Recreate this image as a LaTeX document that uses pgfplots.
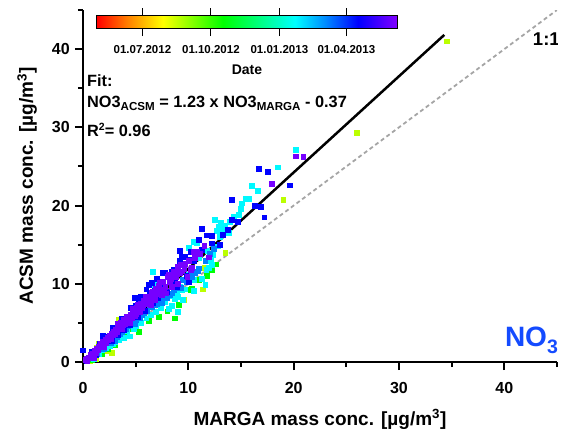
\documentclass[border=0pt]{standalone}
\usepackage{fontspec}
\setmainfont{Liberation Sans}
\usepackage{pgfplots}
\pgfplotsset{compat=1.18}
\usetikzlibrary{calc}
\definecolor{onetoone}{RGB}{165,165,165}
\definecolor{speciesblue}{RGB}{20,75,255}
\pgfplotsset{colormap={date}{rgb255(0cm)=(255,0,0); rgb255(1cm)=(255,125,0); rgb255(2.2cm)=(255,255,0); rgb255(4.2cm)=(0,255,0); rgb255(6.6cm)=(0,255,255); rgb255(7.6cm)=(0,140,255); rgb255(8.7cm)=(0,0,255); rgb255(10cm)=(130,0,255)}}

% x = MARGA, y = ACSM, c = days since 01.05.2012
\pgfplotstableread{
x y c
0.6 0.1 110
1.2 0.4 110
1.3 1.8 110
1.5 2.4 110
2.2 1.4 110
2.7 1.2 110
3.4 5.4 110
6.0 7.6 110
9.6 8.0 110
11.4 9.3 110
11.5 12.1 110
13.5 14.0 110
19.0 20.7 110
26.0 29.3 110
34.5 41.0 110
}\yellowpts
\pgfplotstableread{
x y c
0.8 0.3 170
1.8 1.0 170
2.4 1.7 170
3.0 2.2 170
4.0 3.5 170
4.7 4.2 170
5.3 3.9 170
6.2 5.3 170
7.2 5.8 170
8.0 6.5 170
8.7 5.6 170
9.1 7.3 170
10.2 9.2 170
10.3 9.4 170
11.0 10.5 170
11.7 11.2 170
11.8 11.0 170
12.2 11.8 170
12.6 12.5 170
}\greenpts
\pgfplotstableread{
x y c
0.4 0.1 268
1.0 0.4 268
1.5 1.1 268
1.8 1.6 268
2.2 1.8 268
2.5 2.1 268
2.8 2.3 268
3.0 2.6 268
3.4 2.9 268
3.6 3.5 268
3.9 3.1 268
4.4 3.3 268
4.2 4.0 268
4.8 4.3 268
5.0 4.6 268
5.2 5.9 268
5.5 5.0 268
5.8 6.1 268
6.0 5.6 268
6.4 6.0 268
6.7 7.5 268
6.9 6.4 268
7.2 7.3 268
7.4 6.9 268
7.8 7.7 268
8.1 6.8 268
8.3 8.4 268
8.4 7.2 268
8.7 8.1 268
8.9 8.9 268
9.0 8.3 268
9.0 6.4 268
9.2 9.7 268
9.4 9.2 268
9.5 8.0 268
9.7 9.3 268
6.6 11.5 268
6.8 9.7 268
7.1 9.9 268
10.0 11.2 268
10.0 14.6 268
10.2 10.7 268
10.5 10.5 268
10.5 9.1 268
10.5 15.4 268
10.8 15.2 268
11.0 13.3 268
11.3 10.7 268
11.6 9.9 268
11.7 11.8 268
11.9 12.1 268
12.1 12.9 268
12.2 12.4 268
11.8 14.2 268
12.3 13.7 268
12.8 14.8 268
13.0 16.0 268
12.5 18.2 268
12.7 16.8 268
12.9 17.3 268
13.1 17.8 268
13.3 17.0 268
13.5 17.5 268
13.8 16.5 268
13.9 17.9 268
14.3 18.6 268
14.8 18.8 268
15.0 19.6 268
15.1 20.3 268
15.4 20.9 268
15.7 20.9 268
16.0 22.5 268
16.6 21.9 268
18.5 24.9 268
20.2 27.1 268
}\cyanpts
\pgfplotstableread{
x y c
1.3 1.0 310
2.0 1.7 310
2.6 2.5 310
3.0 2.7 310
3.2 3.2 310
3.5 3.6 310
3.7 3.9 310
4.1 4.3 310
4.3 4.6 310
4.6 5.0 310
4.9 4.9 310
5.0 5.4 310
5.4 5.6 310
5.6 6.0 310
5.8 6.3 310
6.1 6.5 310
6.3 7.0 310
6.5 7.1 310
6.8 7.3 310
7.0 7.5 310
7.3 8.0 310
7.5 7.6 310
7.7 8.3 310
8.0 8.2 310
8.2 8.6 310
8.4 8.8 310
8.6 9.2 310
9.0 9.5 310
9.3 9.5 310
9.5 10.5 310
9.8 10.3 310
10.0 11.0 310
10.3 10.9 310
10.6 11.4 310
10.9 11.6 310
11.0 12.0 310
11.6 13.0 310
12.0 13.8 310
12.4 14.5 310
}\lightbluepts
\pgfplotstableread{
x y c
0.0 1.5 350
0.3 0.2 350
0.8 1.3 350
1.2 0.9 350
1.6 2.4 350
1.9 3.4 350
2.0 1.9 350
2.3 3.3 350
2.7 2.7 350
2.8 4.4 350
3.0 4.0 350
3.3 3.5 350
3.6 4.6 350
3.7 5.6 350
3.9 4.1 350
4.2 5.3 350
4.4 4.8 350
4.5 6.9 350
4.8 6.6 350
4.9 8.2 350
5.0 7.2 350
5.3 7.9 350
5.2 5.8 350
5.5 8.3 350
5.6 7.2 350
5.9 6.6 350
6.0 9.3 350
6.2 9.9 350
6.3 8.7 350
6.5 10.1 350
6.6 7.6 350
6.8 9.1 350
7.0 10.6 350
7.1 8.2 350
7.3 8.9 350
7.4 9.8 350
7.6 11.4 350
7.8 11.4 350
8.0 9.0 350
8.4 11.6 350
8.6 11.8 350
8.7 10.2 350
8.9 9.6 350
9.0 11.6 350
9.2 14.2 350
9.2 12.9 350
9.4 13.5 350
9.7 13.5 350
9.8 11.0 350
10.0 10.2 350
10.2 13.1 350
10.2 14.1 350
10.5 12.9 350
11.0 15.6 350
11.3 14.4 350
11.3 17.0 350
11.7 16.2 350
12.2 16.1 350
12.2 15.2 350
13.0 15.0 350
13.3 16.3 350
13.7 16.9 350
14.1 18.2 350
14.7 17.9 350
14.1 20.8 350
16.3 20.0 350
16.9 19.9 350
17.2 18.5 350
16.7 24.7 350
17.5 24.3 350
19.6 22.6 350
}\bluepts
\pgfplotstableread{
x y c
0.2 0.3 398
0.3 0.4 398
0.4 0.2 398
0.5 0.6 398
0.6 0.5 398
0.7 0.9 398
0.8 0.7 398
0.9 1.1 398
1.0 1.0 398
1.0 0.6 398
1.1 1.4 398
1.2 1.2 398
1.3 1.7 398
1.4 1.5 398
1.5 2.0 398
1.6 1.9 398
1.7 2.3 398
1.8 2.0 398
1.9 2.6 398
2.0 2.4 398
2.0 2.0 398
2.1 2.9 398
2.2 2.5 398
2.3 3.1 398
2.4 2.9 398
2.5 3.4 398
2.6 3.0 398
2.7 3.6 398
2.8 3.5 398
2.9 3.9 398
3.0 3.6 398
3.1 4.2 398
3.2 3.8 398
3.3 4.9 398
3.4 4.6 398
3.5 4.2 398
3.6 5.0 398
3.7 4.3 398
3.8 4.8 398
3.9 5.4 398
4.0 4.9 398
4.1 5.8 398
4.2 5.7 398
4.3 5.3 398
4.4 5.0 398
4.5 6.1 398
4.6 5.6 398
4.7 6.8 398
4.8 6.5 398
4.9 5.9 398
5.0 6.2 398
5.1 7.0 398
5.2 7.4 398
5.3 6.6 398
5.4 6.4 398
5.5 7.5 398
5.6 6.9 398
5.7 7.3 398
5.8 7.9 398
5.9 8.4 398
6.0 7.4 398
6.1 8.0 398
6.2 8.3 398
6.3 7.8 398
6.4 7.3 398
6.5 8.9 398
6.6 9.0 398
6.7 8.3 398
6.8 8.0 398
6.9 9.4 398
7.0 8.7 398
7.1 9.3 398
7.2 9.8 398
7.3 10.2 398
7.4 9.1 398
7.5 8.6 398
7.6 10.3 398
7.7 9.2 398
7.8 9.6 398
7.9 8.8 398
8.0 10.9 398
8.1 11.2 398
8.2 10.2 398
8.3 10.6 398
8.4 9.6 398
8.5 11.2 398
8.6 11.6 398
8.8 10.9 398
8.9 11.3 398
9.0 12.2 398
9.0 10.0 398
9.2 11.4 398
9.3 12.4 398
9.4 11.6 398
9.6 11.9 398
9.7 12.6 398
9.9 10.9 398
10.0 12.9 398
10.2 11.8 398
10.3 12.1 398
10.5 14.1 398
10.6 13.3 398
10.8 14.1 398
11.1 13.8 398
11.5 14.9 398
11.9 13.4 398
17.9 22.8 398
20.2 26.3 398
20.9 26.2 398
}\violetpts

\begin{document}
\begin{tikzpicture}
\begin{axis}[
    name=ax,
    scale only axis,
    width=474pt, height=352pt,
    xmin=0, xmax=45, ymin=0, ymax=45,
    axis x line*=bottom, axis y line*=left,
    axis line style={line width=2.2pt},
    xtick={0,10,...,40}, ytick={0,10,...,40},
    minor xtick={5,15,...,45}, minor ytick={5,15,...,45},
    tick align=outside,
    major tick length=8pt, minor tick length=5pt,
    tick style={black, line width=2pt},
    /pgf/number format/assume math mode=true,
    xticklabel style={font=\fontsize{16}{16}\selectfont\bfseries, anchor=base, inner sep=0pt, yshift=-23pt},
    yticklabel style={font=\fontsize{16}{16}\selectfont\bfseries, anchor=east, inner sep=0pt, xshift=-5pt},
    xlabel={MARGA mass conc. [µg/m\textsuperscript{3}]},
    ylabel={ACSM mass conc. [µg/m\textsuperscript{3}]},
    xlabel style={font=\fontsize{19}{19}\selectfont\bfseries, at={(axis description cs:0.5,-0.179)}, anchor=base, inner sep=0pt},
    ylabel style={font=\fontsize{19}{19}\selectfont\bfseries, at={(axis description cs:-0.1055,0.5)}, anchor=base, inner sep=0pt},
    colormap name=date,
    point meta min=0, point meta max=403,
    colorbar horizontal,
    colorbar style={
        at={(parent axis.north west)}, anchor=north west,
        xshift=14pt, yshift=3pt,
        scale only axis, width=300pt, height=13pt,
        axis line style={line width=1pt},
        xtick={61,153,245,335},
        xticklabels={\textbf{01.07.2012},\textbf{01.10.2012},\textbf{01.01.2013},\textbf{01.04.2013}},
        xticklabel style={font=\fontsize{11.5}{12}\selectfont\bfseries, anchor=base, inner sep=0pt, yshift=-17.5pt},
        tick align=outside, major tick length=7.5pt,
        tick style={black, line width=1.2pt},
        xlabel={Date},
        xlabel style={font=\fontsize{14}{14}\selectfont\bfseries, at={(axis description cs:0.5,-3.54)}, anchor=base, inner sep=0pt},
    },
    scatter/use mapped color={draw=mapped color, fill=mapped color},
]
\addplot[onetoone, line width=1.8pt, dash pattern=on 4pt off 3pt] coordinates {(0,0) (45,45)};
\addplot[scatter, only marks, mark=square*, mark size=2.4pt, point meta=explicit] table[x=x, y=y, meta=c] {\yellowpts};
\addplot[scatter, only marks, mark=square*, mark size=2.4pt, point meta=explicit] table[x=x, y=y, meta=c] {\greenpts};
\addplot[scatter, only marks, mark=square*, mark size=2.4pt, point meta=explicit] table[x=x, y=y, meta=c] {\cyanpts};
\addplot[scatter, only marks, mark=square*, mark size=2.4pt, point meta=explicit] table[x=x, y=y, meta=c] {\lightbluepts};
\addplot[scatter, only marks, mark=square*, mark size=2.4pt, point meta=explicit] table[x=x, y=y, meta=c] {\bluepts};
\addplot[scatter, only marks, mark=square*, mark size=2.4pt, point meta=explicit] table[x=x, y=y, meta=c] {\violetpts};
\addplot[black, line width=2.5pt] coordinates {(0.3,0.0) (34.3,41.82)};
\node[anchor=base west, inner sep=0pt, font=\fontsize{16.3}{17}\selectfont\bfseries] at (axis cs:0.38,35.26) {Fit:};
\node[anchor=base west, inner sep=0pt, font=\fontsize{16.3}{17}\selectfont\bfseries] at (axis cs:0.38,32.52)
  {NO3{\fontsize{11.6}{12}\selectfont\raisebox{-3.3pt}{ACSM}} = 1.23 x NO3{\fontsize{11.6}{12}\selectfont\raisebox{-3.3pt}{MARGA}} - 0.37};
\node[anchor=base west, inner sep=0pt, font=\fontsize{16.3}{17}\selectfont\bfseries] at (axis cs:0.38,28.8)
  {R{\fontsize{10.5}{11}\selectfont\raisebox{6pt}{2}}= 0.96};
\node[anchor=base west, inner sep=0pt, font=\fontsize{18.5}{19}\selectfont\bfseries] at (axis cs:42.7,40.4) {1:1};
\node[anchor=base east, inner sep=0pt, font=\fontsize{28}{28}\selectfont\bfseries, text=speciesblue] at (axis cs:45.1,1.92)
  {NO{\fontsize{19.5}{20}\selectfont\raisebox{-7pt}{3}}};
\end{axis}
\pgfresetboundingbox
\path[use as bounding box] ($(ax.south west)+(-83pt,-70pt)$) rectangle ($(ax.south west)+(480pt,362pt)$);
\end{tikzpicture}
\end{document}
